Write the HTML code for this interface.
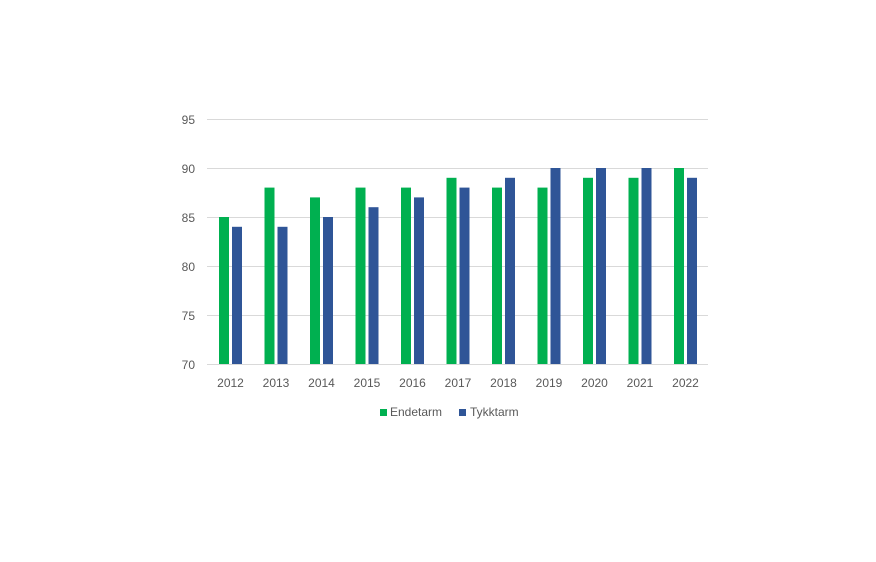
<!DOCTYPE html>
<html><head><style>body{margin:0;background:#fff}svg{display:block}text{font-family:"Liberation Sans",sans-serif;font-size:12px;fill:#595959}</style></head>
<body>
<svg width="876" height="562" xmlns="http://www.w3.org/2000/svg">
<g stroke="#d9d9d9" stroke-width="1">
<line x1="207" x2="708" y1="119.5" y2="119.5"/><line x1="207" x2="708" y1="168.5" y2="168.5"/><line x1="207" x2="708" y1="217.5" y2="217.5"/><line x1="207" x2="708" y1="266.5" y2="266.5"/><line x1="207" x2="708" y1="315.5" y2="315.5"/><line x1="207" x2="708" y1="364.5" y2="364.5"/>
</g>
<g text-anchor="end">
<text x="195" y="124">95</text><text x="195" y="173">90</text><text x="195" y="222">85</text><text x="195" y="271">80</text><text x="195" y="320">75</text><text x="195" y="369">70</text>
</g>
<g fill="#00b050">
<rect x="219" y="217" width="10" height="147"/>
<rect x="264.5" y="187.6" width="10" height="176.4"/>
<rect x="310" y="197.4" width="10" height="166.6"/>
<rect x="355.5" y="187.6" width="10" height="176.4"/>
<rect x="401" y="187.6" width="10" height="176.4"/>
<rect x="446.5" y="177.8" width="10" height="186.2"/>
<rect x="492" y="187.6" width="10" height="176.4"/>
<rect x="537.5" y="187.6" width="10" height="176.4"/>
<rect x="583" y="177.8" width="10" height="186.2"/>
<rect x="628.5" y="177.8" width="10" height="186.2"/>
<rect x="674" y="168" width="10" height="196"/>
</g>
<g fill="#2f5597">
<rect x="232" y="226.8" width="10" height="137.2"/>
<rect x="277.5" y="226.8" width="10" height="137.2"/>
<rect x="323" y="217" width="10" height="147"/>
<rect x="368.5" y="207.2" width="10" height="156.8"/>
<rect x="414" y="197.4" width="10" height="166.6"/>
<rect x="459.5" y="187.6" width="10" height="176.4"/>
<rect x="505" y="177.8" width="10" height="186.2"/>
<rect x="550.5" y="168" width="10" height="196"/>
<rect x="596" y="168" width="10" height="196"/>
<rect x="641.5" y="168" width="10" height="196"/>
<rect x="687" y="177.8" width="10" height="186.2"/>
</g>
<g text-anchor="middle">
<text x="230.5" y="387">2012</text><text x="276" y="387">2013</text><text x="321.5" y="387">2014</text><text x="367" y="387">2015</text><text x="412.5" y="387">2016</text><text x="458" y="387">2017</text><text x="503.5" y="387">2018</text><text x="549" y="387">2019</text><text x="594.5" y="387">2020</text><text x="640" y="387">2021</text><text x="685.5" y="387">2022</text>
</g>
<rect x="380" y="409" width="7" height="7" fill="#00b050"/><text x="390" y="416">Endetarm</text>
<rect x="459" y="409" width="7" height="7" fill="#2f5597"/><text x="470" y="416">Tykktarm</text>
</svg>
</body></html>
